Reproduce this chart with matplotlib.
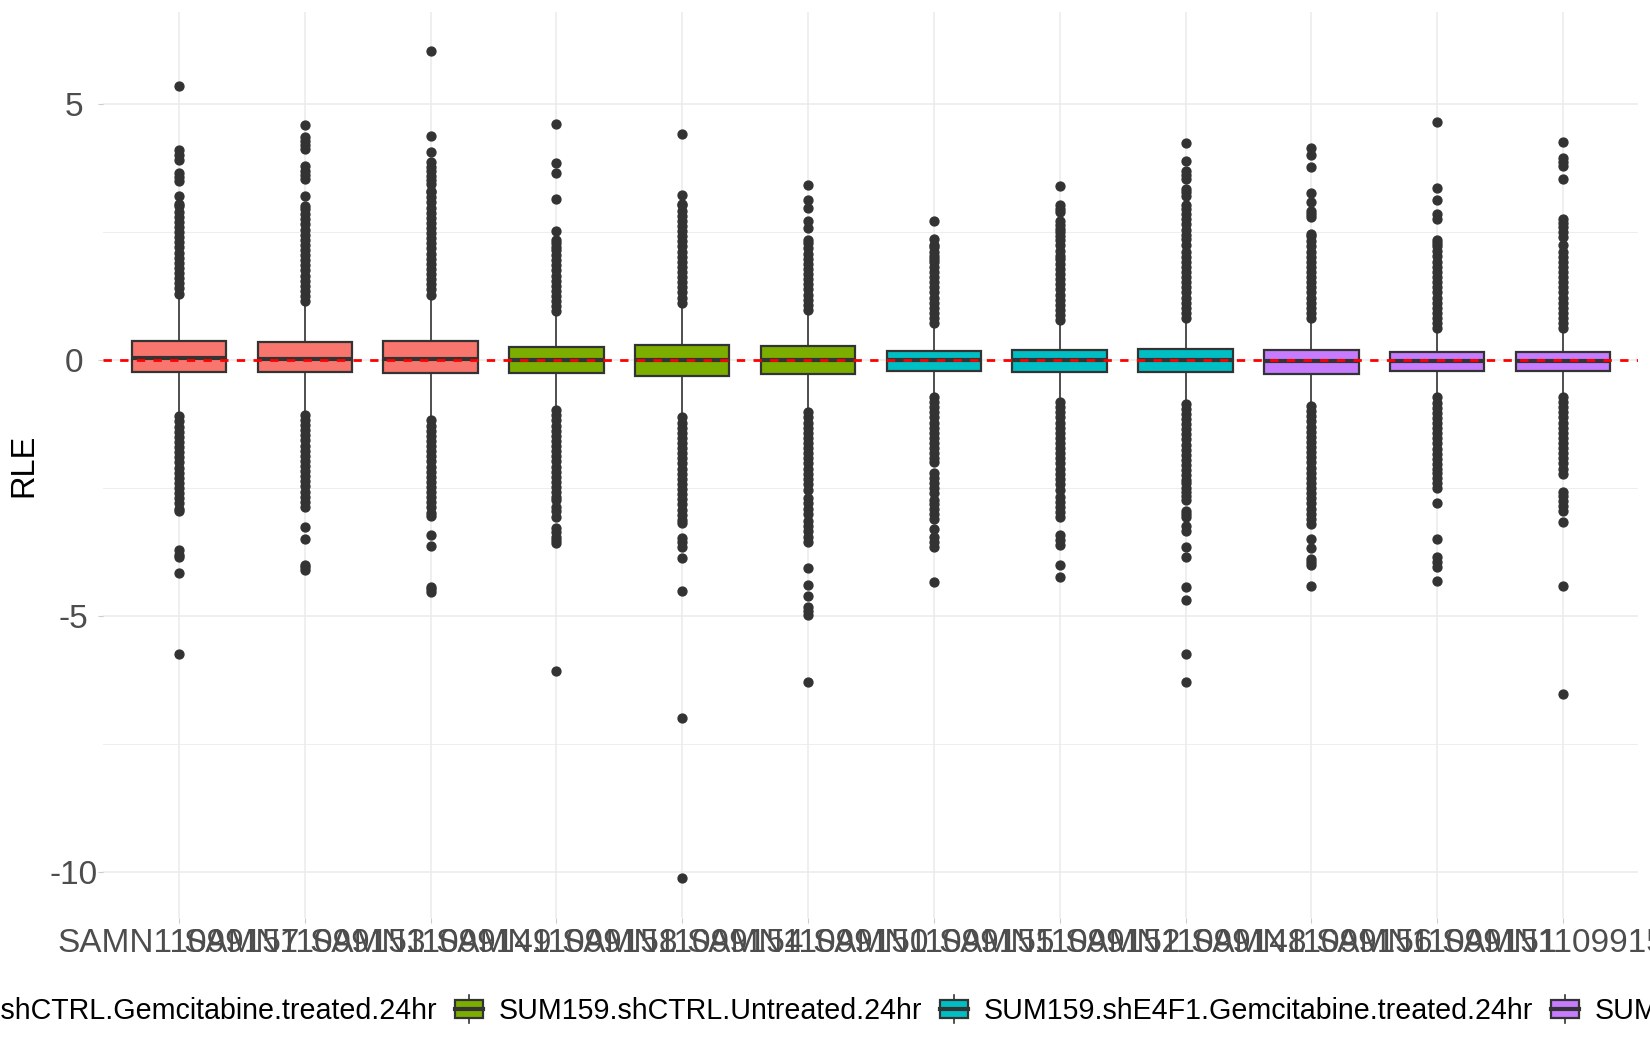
import matplotlib
matplotlib.use("Agg")
import matplotlib.pyplot as plt
from matplotlib.legend_handler import HandlerBase
from matplotlib.patches import Rectangle, Patch
from matplotlib.lines import Line2D

plt.rcParams['font.family'] = ['Liberation Sans', 'DejaVu Sans']

# sample names (x axis) and their group
samples = ['SAMN11099157', 'SAMN11099153', 'SAMN11099149', 'SAMN11099158',
           'SAMN11099154', 'SAMN11099150', 'SAMN11099155', 'SAMN11099152',
           'SAMN11099148', 'SAMN11099156', 'SAMN11099151', 'SAMN11099159']
groups = [0, 0, 0, 1, 1, 1, 2, 2, 2, 3, 3, 3]
group_names = ['SUM159.shCTRL.Gemcitabine.treated.24hr',
               'SUM159.shCTRL.Untreated.24hr',
               'SUM159.shE4F1.Gemcitabine.treated.24hr',
               'SUM159.shE4F1.Untreated.24hr']
group_colors = ['#F8766D', '#7CAE00', '#00BFC4', '#C77CFF']

# box summaries
q1 = [-0.24, -0.23, -0.26, -0.26, -0.31, -0.27, -0.21, -0.23, -0.24, -0.27, -0.22, -0.22]
med = [0.04, 0.03, 0.03, 0.0, 0.0, 0.0, 0.0, 0.0, 0.0, -0.01, -0.01, -0.01]
q3 = [0.365, 0.345, 0.38, 0.25, 0.29, 0.27, 0.18, 0.2, 0.21, 0.2, 0.15, 0.15]
whis_lo = [-1.07, -1.03, -1.15, -0.95, -1.09, -0.99, -0.69, -0.79, -0.82, -0.86, -0.7, -0.68]
whis_hi = [1.25, 1.1, 1.24, 0.9, 1.08, 0.94, 0.68, 0.75, 0.78, 0.78, 0.58, 0.58]

# outliers above the upper whisker
out_hi = [
    [1.3, 1.4, 1.5, 1.6, 1.7, 1.8, 1.9, 2.0, 2.1, 2.2, 2.3, 2.4, 2.5, 2.6, 2.7, 2.8, 2.9, 3.0,
     3.05, 3.2, 3.5, 3.58, 3.65, 3.9, 4.0, 4.1, 5.35],
    [1.15, 1.25, 1.35, 1.45, 1.55, 1.65, 1.75, 1.85, 1.95, 2.05, 2.15, 2.25, 2.35, 2.45, 2.55,
     2.65, 2.75, 2.85, 2.95, 3.0, 3.2, 3.54, 3.62, 3.7, 3.8, 4.13, 4.2, 4.27, 4.35, 4.6],
    [1.28, 1.38, 1.48, 1.58, 1.68, 1.78, 1.88, 1.98, 2.08, 2.18, 2.28, 2.38, 2.48, 2.58, 2.68,
     2.78, 2.88, 2.98, 3.08, 3.18, 3.28, 3.31, 3.44, 3.52, 3.6, 3.7, 3.78, 3.87, 4.06, 4.37, 6.03],
    [0.95, 1.05, 1.15, 1.25, 1.35, 1.45, 1.55, 1.65, 1.75, 1.85, 1.95, 2.05, 2.15, 2.2, 2.28,
     2.35, 2.52, 3.14, 3.66, 3.85, 4.62],
    [1.12, 1.22, 1.32, 1.42, 1.52, 1.62, 1.72, 1.82, 1.92, 2.02, 2.12, 2.22, 2.32, 2.42, 2.52,
     2.62, 2.72, 2.82, 2.92, 3.02, 3.05, 3.23, 4.42],
    [0.98, 1.08, 1.18, 1.28, 1.38, 1.48, 1.58, 1.68, 1.78, 1.88, 1.98, 2.08, 2.18, 2.28, 2.35,
     2.57, 2.72, 2.97, 3.12, 3.42],
    [0.72, 0.82, 0.92, 1.02, 1.12, 1.22, 1.32, 1.42, 1.52, 1.62, 1.72, 1.82, 1.92, 1.98, 2.04,
     2.12, 2.2, 2.25, 2.37, 2.71],
    [0.78, 0.88, 0.98, 1.08, 1.18, 1.28, 1.38, 1.48, 1.58, 1.68, 1.78, 1.88, 1.98, 2.04, 2.14,
     2.25, 2.35, 2.42, 2.5, 2.56, 2.64, 2.72, 2.89, 2.95, 3.02, 3.4],
    [0.82, 0.92, 1.02, 1.12, 1.22, 1.32, 1.42, 1.52, 1.62, 1.72, 1.82, 1.92, 2.02, 2.12, 2.24,
     2.37, 2.45, 2.55, 2.65, 2.75, 2.85, 2.95, 3.02, 3.21, 3.28, 3.34, 3.54, 3.62, 3.7, 3.88, 4.24],
    [0.82, 0.92, 1.02, 1.12, 1.22, 1.32, 1.42, 1.52, 1.62, 1.72, 1.82, 1.92, 2.02, 2.12, 2.22,
     2.32, 2.42, 2.46, 2.79, 2.85, 2.92, 3.08, 3.26, 3.78, 4.0, 4.15],
    [0.62, 0.72, 0.82, 0.92, 1.02, 1.12, 1.22, 1.32, 1.42, 1.52, 1.62, 1.72, 1.82, 1.92, 2.04,
     2.14, 2.22, 2.28, 2.35, 2.76, 2.86, 3.12, 3.37, 4.65],
    [0.62, 0.72, 0.82, 0.92, 1.02, 1.12, 1.22, 1.32, 1.42, 1.52, 1.62, 1.72, 1.82, 1.92, 2.02,
     2.12, 2.24, 2.4, 2.5, 2.6, 2.68, 2.76, 3.53, 3.79, 3.86, 3.94, 4.26],
]

# outliers below the lower whisker
out_lo = [
    [-1.1, -1.2, -1.3, -1.4, -1.5, -1.6, -1.7, -1.8, -1.9, -2.0, -2.1, -2.2, -2.3, -2.4, -2.5,
     -2.6, -2.7, -2.8, -2.9, -2.94, -3.72, -3.8, -3.85, -4.16, -5.74],
    [-1.07, -1.17, -1.27, -1.37, -1.47, -1.57, -1.67, -1.77, -1.87, -1.97, -2.07, -2.17, -2.27,
     -2.37, -2.47, -2.57, -2.67, -2.77, -2.87, -3.26, -3.49, -4.0, -4.05, -4.1],
    [-1.18, -1.28, -1.38, -1.48, -1.58, -1.68, -1.78, -1.88, -1.98, -2.08, -2.18, -2.28, -2.38,
     -2.48, -2.58, -2.68, -2.78, -2.88, -2.98, -3.04, -3.41, -3.64, -4.43, -4.48, -4.53],
    [-0.98, -1.08, -1.18, -1.28, -1.38, -1.48, -1.58, -1.68, -1.78, -1.88, -1.98, -2.08, -2.18,
     -2.28, -2.38, -2.48, -2.58, -2.68, -2.74, -2.87, -2.95, -3.07, -3.28, -3.36, -3.45, -3.52,
     -3.58, -6.07],
    [-1.12, -1.22, -1.32, -1.42, -1.52, -1.62, -1.72, -1.82, -1.92, -2.02, -2.12, -2.22, -2.32,
     -2.42, -2.52, -2.62, -2.72, -2.82, -2.92, -3.02, -3.12, -3.18, -3.48, -3.56, -3.65, -3.86,
     -4.51, -7.0, -10.12],
    [-1.02, -1.12, -1.22, -1.32, -1.42, -1.52, -1.62, -1.72, -1.82, -1.92, -2.02, -2.12, -2.22,
     -2.32, -2.42, -2.53, -2.7, -2.8, -2.9, -3.0, -3.14, -3.24, -3.34, -3.45, -3.55, -4.07,
     -4.39, -4.61, -4.82, -4.9, -4.98, -6.28],
    [-0.72, -0.82, -0.92, -1.02, -1.12, -1.22, -1.32, -1.42, -1.52, -1.62, -1.72, -1.82, -1.92,
     -1.99, -2.2, -2.3, -2.4, -2.5, -2.6, -2.74, -2.82, -2.9, -3.0, -3.11, -3.31, -3.45, -3.55,
     -3.65, -4.34],
    [-0.82, -0.92, -1.02, -1.12, -1.22, -1.32, -1.42, -1.52, -1.62, -1.72, -1.82, -1.92, -2.02,
     -2.12, -2.22, -2.32, -2.42, -2.53, -2.67, -2.77, -2.87, -2.97, -3.07, -3.41, -3.51, -3.61,
     -4.0, -4.24],
    [-0.85, -0.95, -1.05, -1.15, -1.25, -1.35, -1.45, -1.55, -1.65, -1.75, -1.85, -1.95, -2.05,
     -2.15, -2.25, -2.35, -2.4, -2.5, -2.58, -2.66, -2.74, -2.94, -3.0, -3.07, -3.24, -3.34,
     -3.65, -3.84, -4.44, -4.68, -5.74, -6.28],
    [-0.9, -1.0, -1.1, -1.2, -1.3, -1.4, -1.5, -1.6, -1.7, -1.8, -1.9, -2.0, -2.1, -2.2, -2.3,
     -2.4, -2.5, -2.6, -2.7, -2.8, -2.9, -3.0, -3.1, -3.21, -3.5, -3.68, -3.89, -3.95, -4.0,
     -4.41],
    [-0.73, -0.83, -0.93, -1.03, -1.13, -1.23, -1.33, -1.43, -1.53, -1.63, -1.73, -1.83, -1.93,
     -2.03, -2.13, -2.2, -2.3, -2.4, -2.5, -2.79, -3.49, -3.85, -3.95, -4.04, -4.32],
    [-0.72, -0.82, -0.92, -1.02, -1.12, -1.22, -1.32, -1.42, -1.52, -1.62, -1.72, -1.82, -1.92,
     -2.02, -2.12, -2.23, -2.57, -2.65, -2.75, -2.85, -2.94, -3.16, -4.41, -6.53],
]

stats = []
for i in range(len(samples)):
    stats.append(dict(med=med[i], q1=q1[i], q3=q3[i], whislo=whis_lo[i],
                      whishi=whis_hi[i], fliers=out_hi[i] + out_lo[i]))

fig = plt.figure(figsize=(16.5, 10.5), dpi=100)
ax = fig.add_axes([0.0627, 0.1257, 0.9303, 0.8629])

positions = list(range(1, len(samples) + 1))
bp = ax.bxp(stats, positions=positions, widths=0.75, patch_artist=True, showcaps=False,
            boxprops=dict(edgecolor='#333333', linewidth=1.6),
            medianprops=dict(color='#333333', linewidth=3.0),
            whiskerprops=dict(color='#333333', linewidth=1.2),
            flierprops=dict(marker='o', markerfacecolor='#333333', markeredgecolor='#333333',
                            markersize=6.4, linestyle='none'),
            zorder=3)
for box, g in zip(bp['boxes'], groups):
    box.set_facecolor(group_colors[g])

ax.axhline(0, color='red', linestyle=(0, (3, 3)), linewidth=2.0, zorder=4)

ax.set_xlim(0.4, 12.6)
ax.set_ylim(-10.9, 6.8)
ax.set_xticks(positions)
ax.set_xticklabels(samples)
ax.set_yticks([-10, -5, 0, 5])
ax.set_yticklabels(['-10', '-5', '0', '5'], ha='center')
ax.set_yticks([-7.5, -2.5, 2.5], minor=True)

ax.set_axisbelow(True)
ax.grid(which='major', color='#EBEBEB', linewidth=1.1)
ax.grid(which='minor', axis='y', color='#EBEBEB', linewidth=0.6)
for s in ax.spines.values():
    s.set_visible(False)
ax.tick_params(which='major', length=3.5, width=0.8, color='#CCCCCC',
               labelsize=24, labelcolor='#4D4D4D')
ax.tick_params(axis='x', pad=4)
ax.tick_params(axis='y', pad=18)
ax.tick_params(which='minor', length=0)

fig.text(0.0142, 0.557, 'RLE', rotation=90, ha='center', va='center', fontsize=23.5)


class BoxKey(HandlerBase):
    def create_artists(self, legend, orig_handle, xdescent, ydescent, width, height,
                       fontsize, trans):
        x0, y0 = -xdescent, -ydescent
        cx = x0 + width / 2
        whisk = Line2D([cx, cx], [y0, y0 + height], color='#333333', lw=1.2, transform=trans)
        rect = Rectangle((x0, y0 + 0.17 * height), width, 0.66 * height,
                         facecolor=orig_handle.get_facecolor(), edgecolor='#333333',
                         lw=1.6, transform=trans)
        mid = Line2D([x0, x0 + width], [y0 + height / 2] * 2, color='#333333', lw=3.0,
                     transform=trans)
        return [whisk, rect, mid]


handles = [Patch(facecolor=c, edgecolor='#333333') for c in group_colors]
fig.legend(handles, group_names, handler_map={Patch: BoxKey()}, loc='center',
           bbox_to_anchor=(0.5606, 0.038), ncol=4, frameon=False, fontsize=20.6,
           handlelength=1.0, handleheight=1.1, handletextpad=0.55, columnspacing=0.6)

fig.savefig('out.png', dpi=100)
